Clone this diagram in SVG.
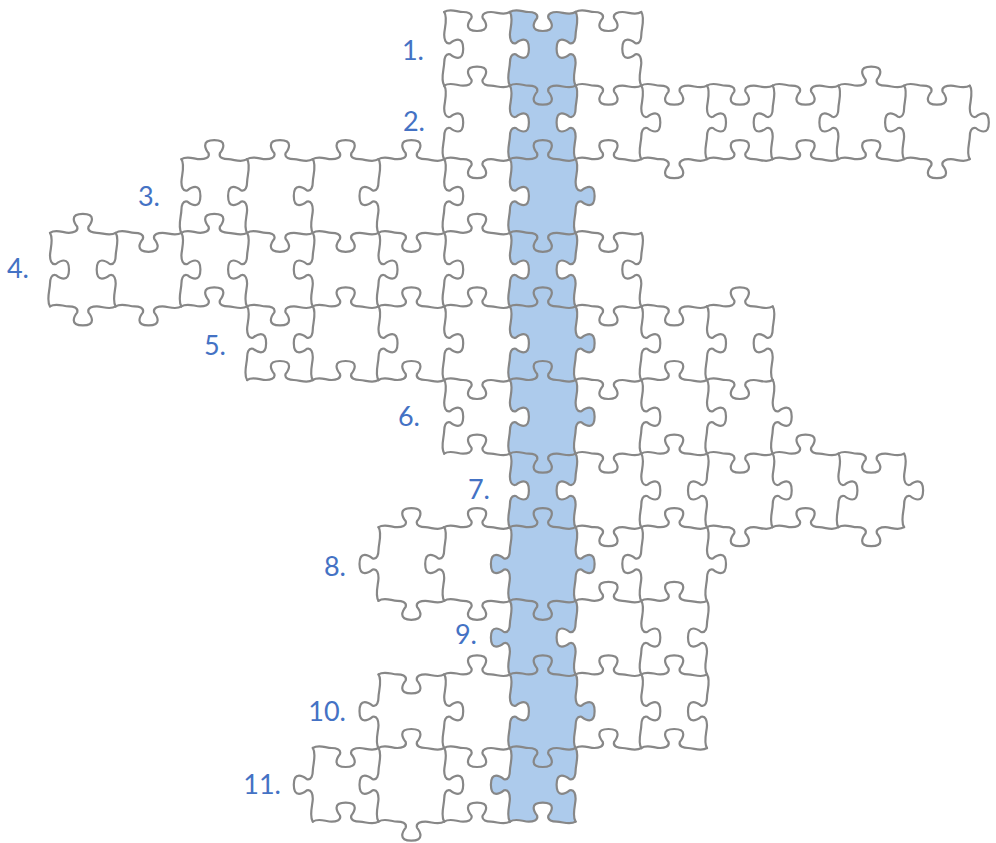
<svg xmlns="http://www.w3.org/2000/svg" width="996" height="843" viewBox="0 0 996 843">
<style>
.e{fill:none;stroke:#878787;stroke-width:2.2;stroke-linejoin:round;stroke-linecap:round}
.lb{font-family:Lato,"Open Sans","Noto Sans",sans-serif;font-size:27px;fill:#4472C4;text-anchor:end}
</style>
<defs>
<path id="hU" d="M0,0 c6,-4 12.85,0 18.85,0 c4,0 9.8,-1.2 8.4,-6 c-2.8,-3.5 -8.4,-13 5.6,-13 c14,0 8.4,9.5 5.6,13 c-1.4,4.8 4.4,6 8.4,6 c6,0 12.85,4 18.85,0"/>
<path id="hD" d="M0,0 c6,-4 12.85,0 18.85,0 c4,0 9.8,1.2 8.4,6 c-2.8,3.5 -8.4,13 5.6,13 c14,0 8.4,-9.5 5.6,-13 c-1.4,-4.8 4.4,-6 8.4,-6 c6,0 12.85,4 18.85,0"/>
<path id="vR" d="M0,0 c4,6 0,16.8 0,22.8 c0,4 1.2,9.8 6,8.4 c3.5,-2.8 13,-8.4 13,5.6 c0,14 -9.5,8.4 -13,5.6 c-4.8,-1.4 -6,4.4 -6,8.4 c0,6 -4,16.8 0,22.8"/>
<path id="vL" d="M0,0 c4,6 0,16.8 0,22.8 c0,4 -1.2,9.8 -6,8.4 c-3.5,-2.8 -13,-8.4 -13,5.6 c0,14 9.5,8.4 13,5.6 c4.8,-1.4 6,4.4 6,8.4 c0,6 -4,16.8 0,22.8"/>
</defs>
<rect width="996" height="843" fill="#ffffff"/>
<g id="blue-column">
<path fill="#ADCBEC" stroke="none" d="M509.9,12
c6,-4 12.85,0 18.85,0 c4,0 9.8,1.2 8.4,6 c-2.8,3.5 -8.4,13 5.6,13 c14,0 8.4,-9.5 5.6,-13 c-1.4,-4.8 4.4,-6 8.4,-6 c6,0 12.85,4 18.85,0
c4,6 0,16.8 0,22.8 c0,4 -1.2,9.8 -6,8.4 c-3.5,-2.8 -13,-8.4 -13,5.6 c0,14 9.5,8.4 13,5.6 c4.8,-1.4 6,4.4 6,8.4 c0,6 -4,16.8 0,22.8
c4,6 0,16.8 0,22.8 c0,4 -1.2,9.8 -6,8.4 c-3.5,-2.8 -13,-8.4 -13,5.6 c0,14 9.5,8.4 13,5.6 c4.8,-1.4 6,4.4 6,8.4 c0,6 -4,16.8 0,22.8
c4,6 0,16.8 0,22.8 c0,4 1.2,9.8 6,8.4 c3.5,-2.8 13,-8.4 13,5.6 c0,14 -9.5,8.4 -13,5.6 c-4.8,-1.4 -6,4.4 -6,8.4 c0,6 -4,16.8 0,22.8
c4,6 0,16.8 0,22.8 c0,4 -1.2,9.8 -6,8.4 c-3.5,-2.8 -13,-8.4 -13,5.6 c0,14 9.5,8.4 13,5.6 c4.8,-1.4 6,4.4 6,8.4 c0,6 -4,16.8 0,22.8
c4,6 0,16.8 0,22.8 c0,4 1.2,9.8 6,8.4 c3.5,-2.8 13,-8.4 13,5.6 c0,14 -9.5,8.4 -13,5.6 c-4.8,-1.4 -6,4.4 -6,8.4 c0,6 -4,16.8 0,22.8
c4,6 0,16.8 0,22.8 c0,4 1.2,9.8 6,8.4 c3.5,-2.8 13,-8.4 13,5.6 c0,14 -9.5,8.4 -13,5.6 c-4.8,-1.4 -6,4.4 -6,8.4 c0,6 -4,16.8 0,22.8
c4,6 0,16.8 0,22.8 c0,4 -1.2,9.8 -6,8.4 c-3.5,-2.8 -13,-8.4 -13,5.6 c0,14 9.5,8.4 13,5.6 c4.8,-1.4 6,4.4 6,8.4 c0,6 -4,16.8 0,22.8
c4,6 0,16.8 0,22.8 c0,4 1.2,9.8 6,8.4 c3.5,-2.8 13,-8.4 13,5.6 c0,14 -9.5,8.4 -13,5.6 c-4.8,-1.4 -6,4.4 -6,8.4 c0,6 -4,16.8 0,22.8
c4,6 0,16.8 0,22.8 c0,4 -1.2,9.8 -6,8.4 c-3.5,-2.8 -13,-8.4 -13,5.6 c0,14 9.5,8.4 13,5.6 c4.8,-1.4 6,4.4 6,8.4 c0,6 -4,16.8 0,22.8
c4,6 0,16.8 0,22.8 c0,4 1.2,9.8 6,8.4 c3.5,-2.8 13,-8.4 13,5.6 c0,14 -9.5,8.4 -13,5.6 c-4.8,-1.4 -6,4.4 -6,8.4 c0,6 -4,16.8 0,22.8
c4,6 0,16.8 0,22.8 c0,4 -1.2,9.8 -6,8.4 c-3.5,-2.8 -13,-8.4 -13,5.6 c0,14 9.5,8.4 13,5.6 c4.8,-1.4 6,4.4 6,8.4 c0,6 -4,16.8 0,22.8
c-6,4 -12.85,0 -18.85,0 c-4,0 -9.8,-1.2 -8.4,-6 c2.8,-3.5 8.4,-13 -5.6,-13 c-14,0 -8.4,9.5 -5.6,13 c1.4,4.8 -4.4,6 -8.4,6 c-6,0 -12.85,-4 -18.85,0
c-4,-6 0,-16.8 0,-22.8 c0,-4 -1.2,-9.8 -6,-8.4 c-3.5,2.8 -13,8.4 -13,-5.6 c0,-14 9.5,-8.4 13,-5.6 c4.8,1.4 6,-4.4 6,-8.4 c0,-6 4,-16.8 0,-22.8
c-4,-6 0,-16.8 0,-22.8 c0,-4 1.2,-9.8 6,-8.4 c3.5,2.8 13,8.4 13,-5.6 c0,-14 -9.5,-8.4 -13,-5.6 c-4.8,1.4 -6,-4.4 -6,-8.4 c0,-6 4,-16.8 0,-22.8
c-4,-6 0,-16.8 0,-22.8 c0,-4 -1.2,-9.8 -6,-8.4 c-3.5,2.8 -13,8.4 -13,-5.6 c0,-14 9.5,-8.4 13,-5.6 c4.8,1.4 6,-4.4 6,-8.4 c0,-6 4,-16.8 0,-22.8
c-4,-6 0,-16.8 0,-22.8 c0,-4 -1.2,-9.8 -6,-8.4 c-3.5,2.8 -13,8.4 -13,-5.6 c0,-14 9.5,-8.4 13,-5.6 c4.8,1.4 6,-4.4 6,-8.4 c0,-6 4,-16.8 0,-22.8
c-4,-6 0,-16.8 0,-22.8 c0,-4 1.2,-9.8 6,-8.4 c3.5,2.8 13,8.4 13,-5.6 c0,-14 -9.5,-8.4 -13,-5.6 c-4.8,1.4 -6,-4.4 -6,-8.4 c0,-6 4,-16.8 0,-22.8
c-4,-6 0,-16.8 0,-22.8 c0,-4 1.2,-9.8 6,-8.4 c3.5,2.8 13,8.4 13,-5.6 c0,-14 -9.5,-8.4 -13,-5.6 c-4.8,1.4 -6,-4.4 -6,-8.4 c0,-6 4,-16.8 0,-22.8
c-4,-6 0,-16.8 0,-22.8 c0,-4 1.2,-9.8 6,-8.4 c3.5,2.8 13,8.4 13,-5.6 c0,-14 -9.5,-8.4 -13,-5.6 c-4.8,1.4 -6,-4.4 -6,-8.4 c0,-6 4,-16.8 0,-22.8
c-4,-6 0,-16.8 0,-22.8 c0,-4 1.2,-9.8 6,-8.4 c3.5,2.8 13,8.4 13,-5.6 c0,-14 -9.5,-8.4 -13,-5.6 c-4.8,1.4 -6,-4.4 -6,-8.4 c0,-6 4,-16.8 0,-22.8
c-4,-6 0,-16.8 0,-22.8 c0,-4 1.2,-9.8 6,-8.4 c3.5,2.8 13,8.4 13,-5.6 c0,-14 -9.5,-8.4 -13,-5.6 c-4.8,1.4 -6,-4.4 -6,-8.4 c0,-6 4,-16.8 0,-22.8
c-4,-6 0,-16.8 0,-22.8 c0,-4 1.2,-9.8 6,-8.4 c3.5,2.8 13,8.4 13,-5.6 c0,-14 -9.5,-8.4 -13,-5.6 c-4.8,1.4 -6,-4.4 -6,-8.4 c0,-6 4,-16.8 0,-22.8
c-4,-6 0,-16.8 0,-22.8 c0,-4 1.2,-9.8 6,-8.4 c3.5,2.8 13,8.4 13,-5.6 c0,-14 -9.5,-8.4 -13,-5.6 c-4.8,1.4 -6,-4.4 -6,-8.4 c0,-6 4,-16.8 0,-22.8 Z"/>
</g>
<g id="puzzle-edges" class="e">
<g id="h-lines">
<use href="#hD" x="444.2" y="12"/><use href="#hD" x="509.9" y="12"/><use href="#hD" x="575.6" y="12"/>
<use href="#hU" x="444.2" y="85.6"/><use href="#hD" x="509.9" y="85.6"/><use href="#hD" x="575.6" y="85.6"/><use href="#hD" x="641.3" y="85.6"/><use href="#hD" x="707" y="85.6"/><use href="#hD" x="772.7" y="85.6"/><use href="#hU" x="838.4" y="85.6"/><use href="#hD" x="904.1" y="85.6"/>
<use href="#hU" x="181.4" y="159.2"/><use href="#hU" x="247.1" y="159.2"/><use href="#hU" x="312.8" y="159.2"/><use href="#hU" x="378.5" y="159.2"/><use href="#hD" x="444.2" y="159.2"/><use href="#hU" x="509.9" y="159.2"/><use href="#hU" x="575.6" y="159.2"/><use href="#hD" x="641.3" y="159.2"/><use href="#hU" x="707" y="159.2"/><use href="#hU" x="772.7" y="159.2"/><use href="#hU" x="838.4" y="159.2"/><use href="#hD" x="904.1" y="159.2"/>
<use href="#hU" x="50" y="232.8"/><use href="#hD" x="115.7" y="232.8"/><use href="#hU" x="181.4" y="232.8"/><use href="#hD" x="247.1" y="232.8"/><use href="#hD" x="312.8" y="232.8"/><use href="#hD" x="378.5" y="232.8"/><use href="#hU" x="444.2" y="232.8"/><use href="#hD" x="509.9" y="232.8"/><use href="#hD" x="575.6" y="232.8"/>
<use href="#hD" x="50" y="306.4"/><use href="#hD" x="115.7" y="306.4"/><use href="#hU" x="181.4" y="306.4"/><use href="#hD" x="247.1" y="306.4"/><use href="#hU" x="312.8" y="306.4"/><use href="#hU" x="378.5" y="306.4"/><use href="#hU" x="444.2" y="306.4"/><use href="#hU" x="509.9" y="306.4"/><use href="#hD" x="575.6" y="306.4"/><use href="#hD" x="641.3" y="306.4"/><use href="#hU" x="707" y="306.4"/>
<use href="#hU" x="247.1" y="380"/><use href="#hU" x="312.8" y="380"/><use href="#hU" x="378.5" y="380"/><use href="#hD" x="444.2" y="380"/><use href="#hU" x="509.9" y="380"/><use href="#hD" x="575.6" y="380"/><use href="#hU" x="641.3" y="380"/><use href="#hD" x="707" y="380"/>
<use href="#hU" x="444.2" y="453.6"/><use href="#hD" x="509.9" y="453.6"/><use href="#hD" x="575.6" y="453.6"/><use href="#hU" x="641.3" y="453.6"/><use href="#hD" x="707" y="453.6"/><use href="#hU" x="772.7" y="453.6"/><use href="#hD" x="838.4" y="453.6"/>
<use href="#hU" x="378.5" y="527.2"/><use href="#hU" x="444.2" y="527.2"/><use href="#hU" x="509.9" y="527.2"/><use href="#hD" x="575.6" y="527.2"/><use href="#hU" x="641.3" y="527.2"/><use href="#hD" x="707" y="527.2"/><use href="#hU" x="772.7" y="527.2"/><use href="#hD" x="838.4" y="527.2"/>
<use href="#hD" x="378.5" y="600.8"/><use href="#hD" x="444.2" y="600.8"/><use href="#hD" x="509.9" y="600.8"/><use href="#hU" x="575.6" y="600.8"/><use href="#hU" x="641.3" y="600.8"/>
<use href="#hD" x="378.5" y="674.4"/><use href="#hU" x="444.2" y="674.4"/><use href="#hU" x="509.9" y="674.4"/><use href="#hU" x="575.6" y="674.4"/><use href="#hU" x="641.3" y="674.4"/>
<use href="#hD" x="312.8" y="748"/><use href="#hU" x="378.5" y="748"/><use href="#hD" x="444.2" y="748"/><use href="#hD" x="509.9" y="748"/><use href="#hU" x="575.6" y="748"/><use href="#hU" x="641.3" y="748"/>
<use href="#hU" x="312.8" y="821.6"/><use href="#hD" x="378.5" y="821.6"/><use href="#hU" x="444.2" y="821.6"/><use href="#hU" x="509.9" y="821.6"/>
</g>
<g id="v-lines">
<use href="#vR" x="444.2" y="12"/><use href="#vR" x="509.9" y="12"/><use href="#vL" x="575.6" y="12"/><use href="#vL" x="641.3" y="12"/>
<use href="#vR" x="444.2" y="85.6"/><use href="#vR" x="509.9" y="85.6"/><use href="#vL" x="575.6" y="85.6"/><use href="#vR" x="641.3" y="85.6"/><use href="#vR" x="707" y="85.6"/><use href="#vL" x="772.7" y="85.6"/><use href="#vL" x="838.4" y="85.6"/><use href="#vL" x="904.1" y="85.6"/><use href="#vR" x="969.8" y="85.6"/>
<use href="#vR" x="181.4" y="159.2"/><use href="#vL" x="247.1" y="159.2"/><use href="#vL" x="312.8" y="159.2"/><use href="#vL" x="378.5" y="159.2"/><use href="#vR" x="444.2" y="159.2"/><use href="#vR" x="509.9" y="159.2"/><use href="#vR" x="575.6" y="159.2"/>
<use href="#vR" x="50" y="232.8"/><use href="#vL" x="115.7" y="232.8"/><use href="#vR" x="181.4" y="232.8"/><use href="#vL" x="247.1" y="232.8"/><use href="#vL" x="312.8" y="232.8"/><use href="#vR" x="378.5" y="232.8"/><use href="#vR" x="444.2" y="232.8"/><use href="#vR" x="509.9" y="232.8"/><use href="#vL" x="575.6" y="232.8"/><use href="#vL" x="641.3" y="232.8"/>
<use href="#vR" x="247.1" y="306.4"/><use href="#vL" x="312.8" y="306.4"/><use href="#vR" x="378.5" y="306.4"/><use href="#vR" x="444.2" y="306.4"/><use href="#vR" x="509.9" y="306.4"/><use href="#vR" x="575.6" y="306.4"/><use href="#vR" x="641.3" y="306.4"/><use href="#vR" x="707" y="306.4"/><use href="#vL" x="772.7" y="306.4"/>
<use href="#vR" x="444.2" y="380"/><use href="#vR" x="509.9" y="380"/><use href="#vR" x="575.6" y="380"/><use href="#vR" x="641.3" y="380"/><use href="#vR" x="707" y="380"/><use href="#vR" x="772.7" y="380"/>
<use href="#vR" x="509.9" y="453.6"/><use href="#vL" x="575.6" y="453.6"/><use href="#vR" x="641.3" y="453.6"/><use href="#vL" x="707" y="453.6"/><use href="#vR" x="772.7" y="453.6"/><use href="#vR" x="838.4" y="453.6"/><use href="#vR" x="904.1" y="453.6"/>
<use href="#vL" x="378.5" y="527.2"/><use href="#vL" x="444.2" y="527.2"/><use href="#vL" x="509.9" y="527.2"/><use href="#vR" x="575.6" y="527.2"/><use href="#vL" x="641.3" y="527.2"/><use href="#vR" x="707" y="527.2"/>
<use href="#vL" x="509.9" y="600.8"/><use href="#vL" x="575.6" y="600.8"/><use href="#vR" x="641.3" y="600.8"/><use href="#vL" x="707" y="600.8"/>
<use href="#vL" x="378.5" y="674.4"/><use href="#vR" x="444.2" y="674.4"/><use href="#vR" x="509.9" y="674.4"/><use href="#vR" x="575.6" y="674.4"/><use href="#vR" x="641.3" y="674.4"/><use href="#vL" x="707" y="674.4"/>
<use href="#vL" x="312.8" y="748"/><use href="#vL" x="378.5" y="748"/><use href="#vR" x="444.2" y="748"/><use href="#vL" x="509.9" y="748"/><use href="#vL" x="575.6" y="748"/>
</g>
</g>
<g id="labels" class="lb">
<text x="424" y="60">1.</text>
<text x="425" y="131">2.</text>
<text x="160" y="206">3.</text>
<text x="29" y="278">4.</text>
<text x="226" y="355">5.</text>
<text x="420" y="426">6.</text>
<text x="490" y="499">7.</text>
<text x="346" y="576">8.</text>
<text x="477" y="644">9.</text>
<text x="346" y="721">10.</text>
<text x="281" y="794">11.</text>
</g>
</svg>
